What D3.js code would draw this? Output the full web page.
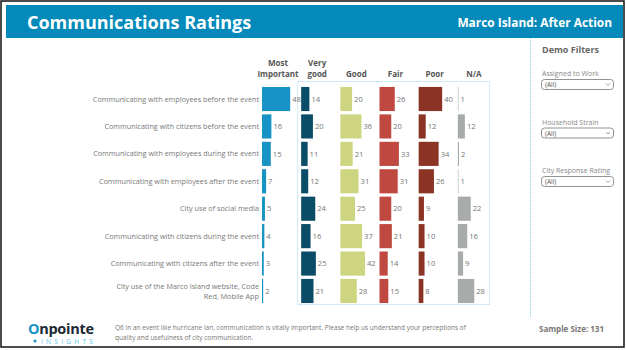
<!DOCTYPE html>
<html><head><meta charset="utf-8">
<script src="https://cdn.jsdelivr.net/npm/d3@7"></script>
<style>body{margin:0;background:#fff}svg{display:block;font-family:"Open Sans",sans-serif}</style>
</head><body><svg id="c" width="626" height="350"></svg>
<script>
const categories = [
  "Communicating with employees before the event",
  "Communicating with citizens before the event",
  "Communicating with employees during the event",
  "Communicating with employees after the event",
  "City use of social media",
  "Communicating with citizens during the event",
  "Communicating with citizens after the event",
  "City use of the Marco Island website, Code Red, Mobile App"
];
const columns = ["Most Important", "Very good", "Good", "Fair", "Poor", "N/A"];
const mostImportant = [48, 16, 15, 7, 5, 4, 3, 2];
const veryGood = [14, 20, 11, 12, 24, 16, 25, 21];
const good = [20, 36, 21, 31, 25, 37, 42, 28];
const fair = [26, 20, 33, 31, 20, 21, 14, 15];
const poor = [40, 12, 34, 26, 9, 10, 10, 8];
const na = [1, 12, 2, 1, 22, 16, 9, 28];
const seriesValues = [mostImportant, veryGood, good, fair, poor, na];
const colors = ["#1893C5", "#0B4C67", "#CDD580", "#BF4940", "#8B3425", "#A7ABA9"];
const filters = ["Assigned to Work", "Household Strain", "City Response Rating"];

const svg = d3.select("#c");
svg.append("rect").attr("x",1).attr("y",1).attr("width",623).attr("height",346)
  .attr("fill","#fff").attr("stroke","#111").attr("stroke-width",1.5);

// header
svg.append("rect").attr("x",6).attr("y",5).attr("width",617).attr("height",33).attr("fill","#038ABA");
svg.append("text").attr("x",27).attr("y",28.5).attr("fill","#fff").attr("font-size",18).attr("font-weight",700)
  .text("Communications Ratings");
svg.append("text").attr("x",612).attr("y",27).attr("text-anchor","end").attr("fill","#fff")
  .attr("font-size",11.9).attr("font-weight",700).text("Marco Island: After Action");

// side divider
svg.append("line").attr("x1",530.5).attr("x2",530.5).attr("y1",38).attr("y2",317)
  .attr("stroke","#8ccfea").attr("stroke-dasharray","1,1");

// filters
svg.append("text").attr("x",542).attr("y",53).attr("font-size",9).attr("font-weight",700).attr("fill","#666").text("Demo Filters");
filters.forEach((f,i)=>{
  const y0 = 76 + i*48.5;
  svg.append("text").attr("x",542).attr("y",y0).attr("font-size",7).attr("fill","#888").text(f);
  svg.append("rect").attr("x",541.5).attr("y",y0+3.5).attr("width",72).attr("height",10).attr("rx",3)
    .attr("fill","#fff").attr("stroke","#777").attr("stroke-width",0.8);
  svg.append("text").attr("x",545).attr("y",y0+11).attr("font-size",6.5).attr("fill","#555").text("(All)");
  svg.append("path").attr("d",`M${606},${y0+7.5} l2,2 l2,-2`).attr("fill","none").attr("stroke","#777").attr("stroke-width",0.7);
});

// chart scales
const y = d3.scaleBand().domain(categories).range([85.3, 304.7]).paddingInner(0.12).paddingOuter(0.06);
const xc = d3.scaleBand().domain(columns).range([262, 497]);
const xv = d3.scaleLinear().domain([0, 48]).range([0, 28.2]);

// dotted box around rating columns
svg.append("rect").attr("x",xc("Very good")-3.5).attr("y",81.5).attr("width",192).attr("height",223)
  .attr("fill","none").attr("stroke","#9fd6ee").attr("stroke-dasharray","1,1");

// category labels
categories.forEach(c=>{
  const t = svg.append("text").attr("x",259).attr("text-anchor","end").attr("font-size",7.25).attr("fill","#777");
  const cy = y(c)+y.bandwidth()/2;
  if (c.length > 50) {
    t.append("tspan").attr("x",259).attr("y",cy-1.5).text("City use of the Marco Island website, Code");
    t.append("tspan").attr("x",259).attr("y",cy+8).text("Red, Mobile App");
  } else {
    t.attr("y",cy).attr("dy","0.35em").text(c);
  }
});

// column headers
const headerLines = {"Most Important":["Most","Important"],"Very good":["Very","good"]};
columns.forEach(col=>{
  const cx = xc(col)+16;
  const lines = headerLines[col] || [col];
  lines.forEach((l,i)=>{
    svg.append("text").attr("x",cx).attr("y",77 - (lines.length-1-i)*11).attr("text-anchor","middle")
      .attr("font-size",8).attr("font-weight",700).attr("fill","#555").text(l);
  });
});

// bars
columns.forEach((col,ci)=>{
  const g = svg.append("g").attr("transform",`translate(${xc(col)},0)`);
  const vals = seriesValues[ci];
  g.selectAll("rect").data(vals).join("rect")
    .attr("x",0).attr("y",(d,i)=>y(categories[i])).attr("height",y.bandwidth())
    .attr("width",d=>xv(d)).attr("fill",colors[ci]);
  g.selectAll("text").data(vals).join("text")
    .attr("x",d=>xv(d)+2).attr("y",(d,i)=>y(categories[i])+y.bandwidth()/2).attr("dy","0.35em")
    .attr("font-size",7.6).attr("fill","#777").text(d=>d);
});

// footer
const logo = svg.append("text").attr("x",28).attr("y",333.5).attr("font-size",14.5).attr("font-weight",700).attr("fill","#1c2733").attr("letter-spacing",-0.3);
logo.append("tspan").attr("fill","#1893C5").text("O");
logo.append("tspan").text("npointe");
svg.append("circle").attr("cx",35).attr("cy",341).attr("r",1.5).attr("fill","#1893C5");
svg.append("text").attr("x",41).attr("y",343.5).attr("font-size",6.5).attr("letter-spacing",3.3).attr("fill","#5bbfe6").text("INSIGHTS");
const q = svg.append("text").attr("font-size",6.5).attr("fill","#777");
q.append("tspan").attr("x",115).attr("y",330).text("Q6 In an event like hurricane Ian, communication is vitally important.  Please help us understand your perceptions of");
q.append("tspan").attr("x",115).attr("y",339.5).text("quality and usefulness of city communication.");
svg.append("text").attr("x",539).attr("y",332).attr("font-size",8).attr("font-weight",700).attr("fill","#777").text("Sample Size: 131");
</script></body></html>
